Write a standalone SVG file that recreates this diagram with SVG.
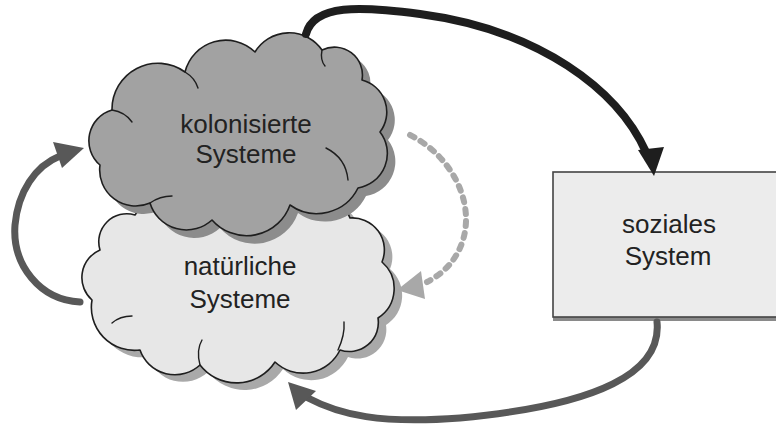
<svg xmlns="http://www.w3.org/2000/svg" width="776" height="425" viewBox="0 0 776 425">
<style>
.lbl{font-family:"Liberation Sans",Arial,sans-serif;font-size:26px;fill:#222;text-anchor:middle}
.outline{stroke:#1e1e1e;stroke-width:1.6;stroke-linejoin:round}
.inner{fill:none;stroke:#1e1e1e;stroke-width:1.4;stroke-linecap:round}
.conn{fill:none;stroke-linecap:round}
</style>
<defs>
<path id="darkCloud" d="M100,165 A32,32 0 0 1 112,110 A46,46 0 0 1 185,72 A42,42 0 0 1 255,52 A40,40 0 0 1 322,50 A28,28 0 0 1 362,80 A33,33 0 0 1 380,132 A35,35 0 0 1 358,188 A46,46 0 0 1 290,205 A46,46 0 0 1 212,220 A38,38 0 0 1 150,203 A36,36 0 0 1 100,165 Z"/>
<path id="lightCloud" d="M92,300 A30,30 0 0 1 100,250 A28,28 0 0 1 135,215 A55,55 0 0 1 220,205 A55,55 0 0 1 300,205 A31,31 0 0 1 350,218 A32,32 0 0 1 382,262 A35,35 0 0 1 378,318 A29,29 0 0 1 340,350 A41,41 0 0 1 275,362 A46,46 0 0 1 200,365 A37,37 0 0 1 140,350 A43,43 0 0 1 92,300 Z"/>
</defs>
<g id="natuerliche-systeme">
<use href="#lightCloud" transform="translate(8,7)" fill="#a9a9a9"/>
<use href="#lightCloud" class="outline" fill="#e7e7e7"/>
<path class="inner" d="M112,323 Q120,316 132,316"/>
<path class="inner" d="M200,365 Q196,350 202,340"/>
<path class="inner" d="M338,350 Q345,335 344,322"/>
<text class="lbl" x="240" y="275">natürliche</text>
<text class="lbl" x="240" y="308">Systeme</text>
</g>
<g id="kolonisierte-systeme">
<use href="#darkCloud" transform="translate(8,8)" fill="#8c8c8c"/>
<use href="#darkCloud" class="outline" fill="#a2a2a2"/>
<path class="inner" d="M185,72 Q195,78 198,88"/>
<path class="inner" d="M322,50 Q320,60 325,66"/>
<path class="inner" d="M326,148 Q346,158 348,180"/>
<path class="inner" d="M112,110 Q125,112 132,122"/>
<path class="inner" d="M150,203 Q160,196 172,196"/>
<text class="lbl" x="246" y="133">kolonisierte</text>
<text class="lbl" x="246" y="163">Systeme</text>
</g>
<g id="soziales-system">
<rect x="553" y="175" width="224" height="146" fill="#8a8a8a"/>
<rect x="553" y="172" width="224" height="145" fill="#ececec" stroke="#444" stroke-width="1.6"/>
<text class="lbl" x="669" y="233">soziales</text>
<text class="lbl" x="668" y="265">System</text>
</g>
<g id="connectors">
<path class="conn" d="M306,34 C314,4 360,6 420,14 C540,30 618,90 646,152" stroke="#1e1e1e" stroke-width="8"/>
<polygon points="654,176 638,150 664,147" fill="#1e1e1e"/>
<path class="conn" d="M657,322 C662,372 600,405 460,418 C380,424 340,415 308,398" stroke="#585858" stroke-width="7"/>
<polygon points="288,382 316,391 296,410" fill="#585858"/>
<path class="conn" d="M80,302 C40,300 12,265 15,225 C18,192 35,166 60,156" stroke="#585858" stroke-width="7"/>
<polygon points="84,148 53,142 62,168" fill="#585858"/>
<path class="conn" d="M410,135 C450,155 475,200 463,240 C456,262 442,274 427,282" stroke="#a8a8a8" stroke-width="6" stroke-dasharray="5 7" stroke-linecap="butt"/>
<polygon points="397,290 421,271 425,299" fill="#a8a8a8"/>
</g>
</svg>
